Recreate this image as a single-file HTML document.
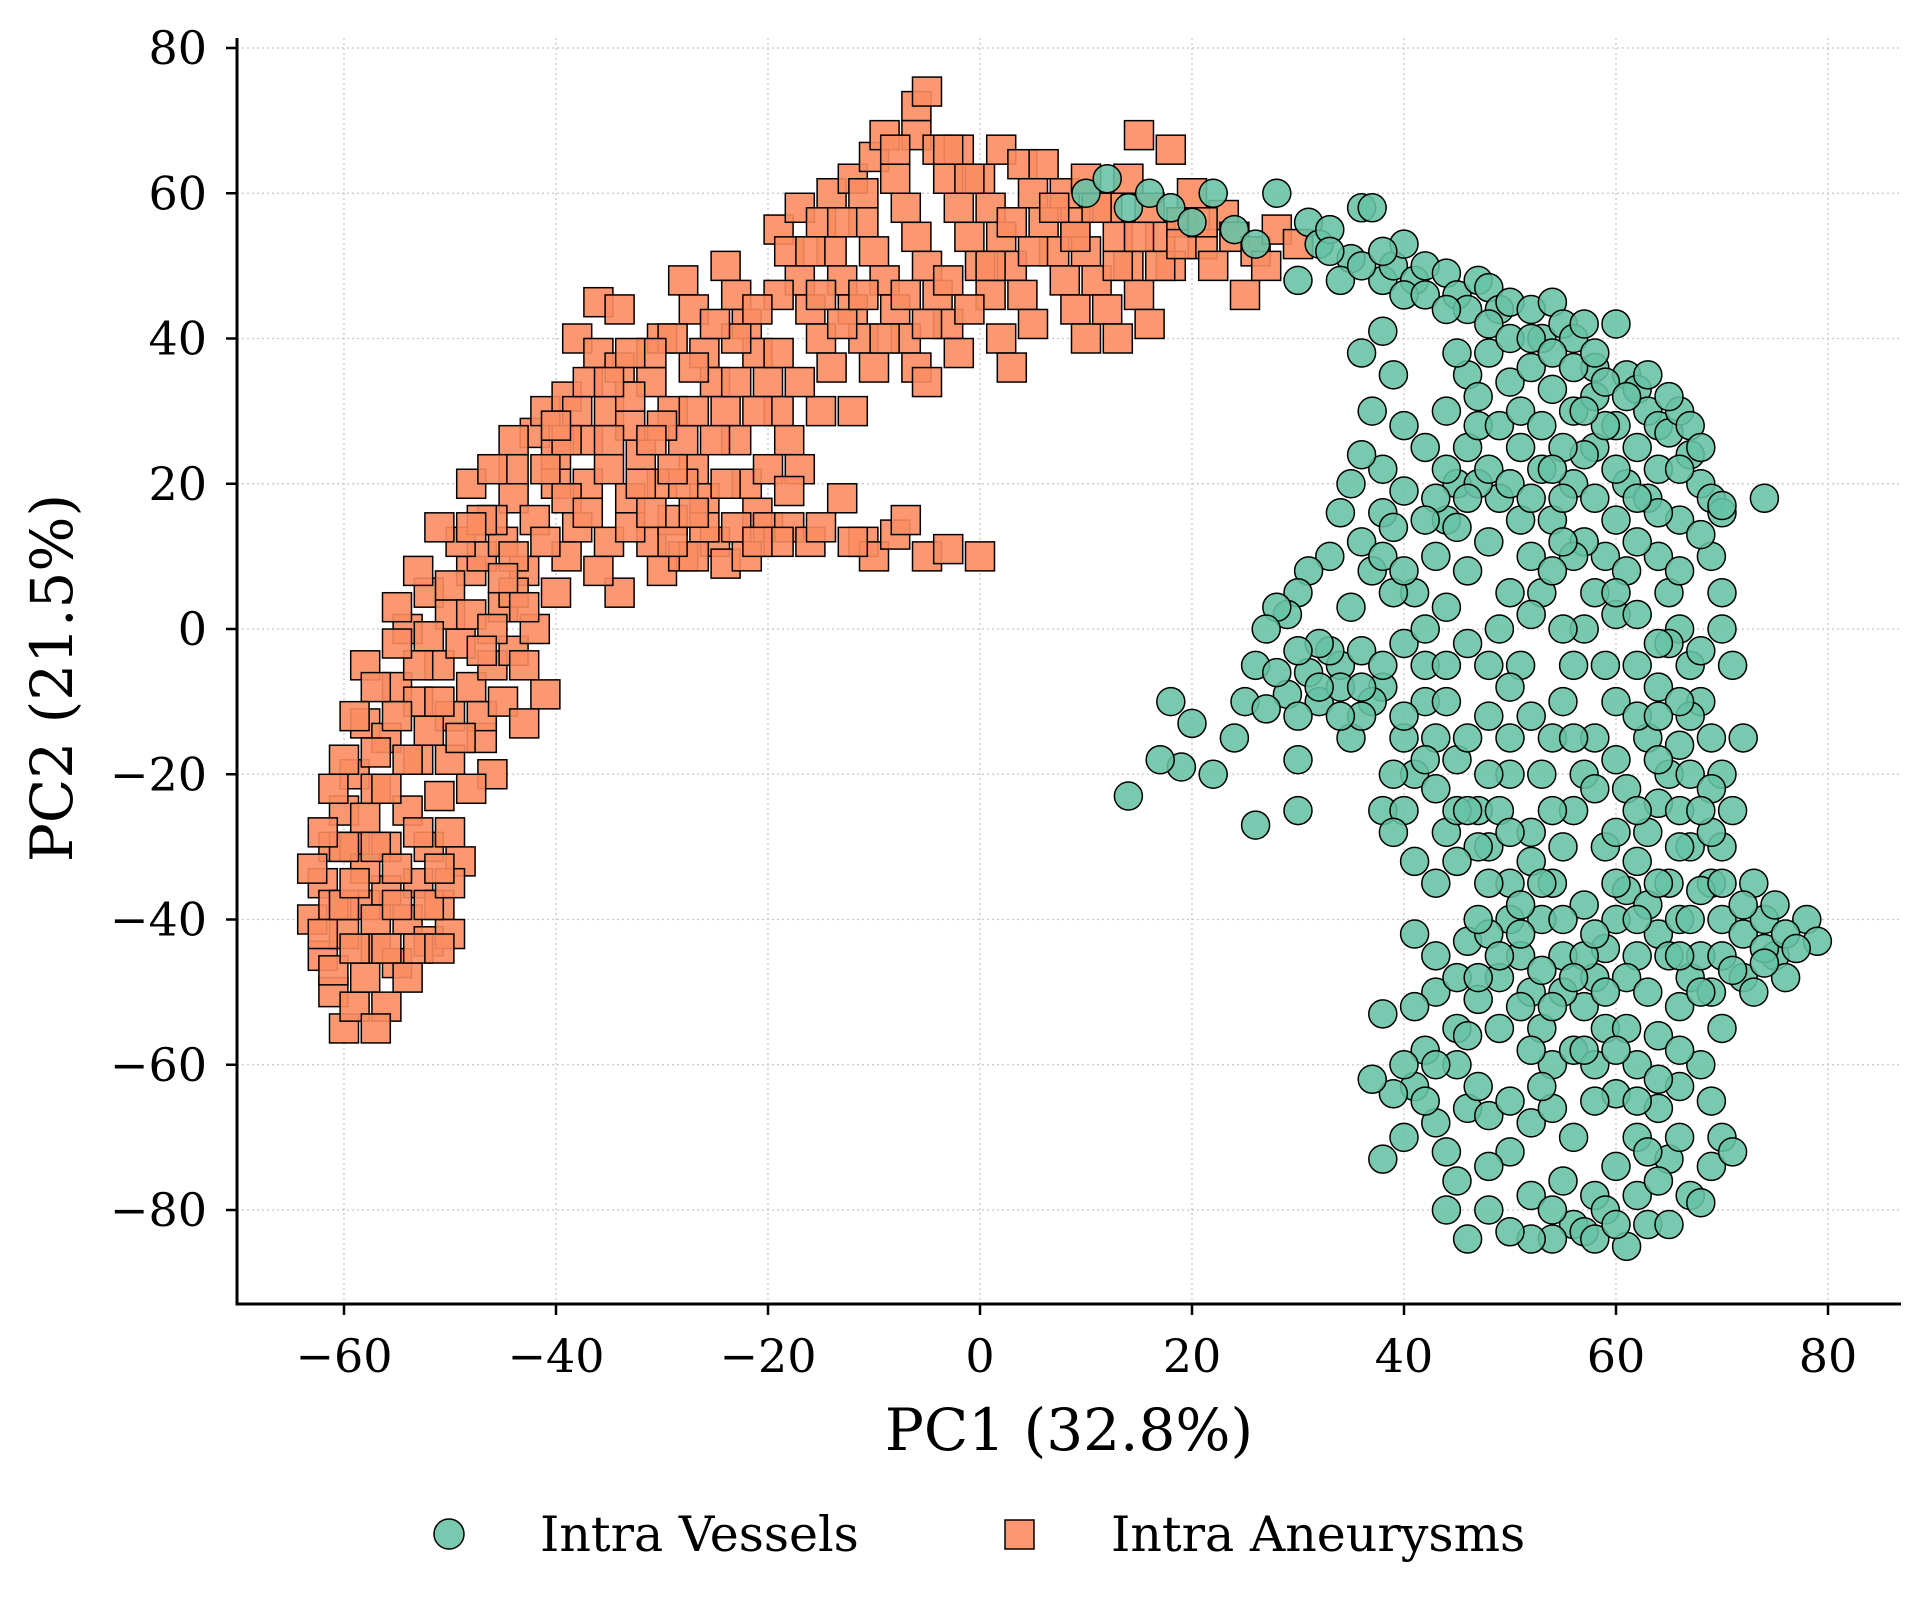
<!DOCTYPE html>
<html><head><meta charset="utf-8"><style>
html,body{margin:0;padding:0;background:#fff;}
svg{display:block;font-family:"DejaVu Serif","Liberation Serif",serif;}
</style></head><body>
<svg id="chart" width="1922" height="1606" viewBox="0 0 1922 1606" xmlns="http://www.w3.org/2000/svg">
<g id="grid"></g>
<g id="sq"></g>
<g id="ci"></g>
<g id="axes"></g>
<text x="1069" y="1450" font-size="58" text-anchor="middle">PC1 (32.8%)</text>
<text x="0" y="0" font-size="58" text-anchor="middle" transform="translate(72,678) rotate(-90)">PC2 (21.5%)</text>
<g>
<g>
<circle cx="449" cy="1534" r="15" fill="#66c2a5" fill-opacity="0.88" stroke="#000" stroke-width="1.5"/>
<text x="540" y="1551" font-size="49">Intra Vessels</text></g>
<g>
<rect x="1005" y="1520" width="29" height="29" fill="#fc8d62" fill-opacity="0.9" stroke="#000" stroke-width="1.5"/>
<text x="1111" y="1551" font-size="49">Intra Aneurysms</text></g>
</g>
</svg>
<script>
const xTicks=[-60,-40,-20,0,20,40,60,80];
const yTicks=[-80,-60,-40,-20,0,20,40,60,80];
const aneurysmX=[-63,-62,-61,-60,-59,-58,-60,-62,-61,-60,-59,-58,-57,-56,-55,-54,-53,-52,-51,-50,-52,-54,-56,-57,-58,-56,-55,-53,-51,-50,-49,-53,-51,-54,-52,-50,-49,-48,-47,-46,-58,-55,-50,-48,-46,-45,-44,-47,-45,-43,-42,-41,-40,-39,-44,-42,-40,-38,-42,-40,-37,-35,-34,-36,-48,-46,-44,-41,-39,-37,-35,-33,-31,-30,-38,-36,-35,-34,-33,-32,-30,-29,-28,-36,-34,-31,-30,-29,-28,-27,-26,-25,-24,-28,-27,-26,-25,-24,-23,-22,-21,-22,-20,-24,-23,-22,-21,-20,-19,-18,-17,-18,-16,-19,-18,-17,-16,-15,-14,-15,-13,-11,-10,-8,-7,-5,-3,0,-17,-15,-14,-13,-12,-11,-10,-12,-14,-12,-11,-10,-9,-8,-7,-6,-5,-10,-9,-8,-7,-6,-5,-4,-3,-2,-6,-5,-6,-4,-3,-2,-1,0,1,2,3,-2,0,1,2,3,4,5,2,4,5,6,7,8,9,10,6,8,9,10,11,12,13,10,12,13,14,15,16,14,15,16,17,18,19,20,21,22,23,24,25,26,27,28,30,18,-26,-28,-20,-30,-38,-44,-43,-47,-56,-59,-61,-57,
-62,-61,-60,-59,-58,-57,-56,-55,-54,-53,-52,-51,-50,-59,-60,-58,-57,-55,-53,-51,-56,-54,-52,-50,-48,-57,-55,-53,-51,-49,-52,-50,-48,-46,-44,-47,-45,-43,-49,-47,-45,-43,-41,-39,-37,-41,-39,-37,-35,-33,-31,-29,-27,-25,-23,-21,-19,-17,-15,-13,-11,-9,-7,-5,-3,-1,1,3,5,7,9,11,13,15,17,19,21,-1,-3,-8,-11,-13,-16,-19,-21,-23,-25,-27,-29,-31,-33,-35,-33,-31,-27,-23,-19,-15,-12,-27,-29,-21,-18,-24,-32,-40,-44,-46,-48,-51,-53,-55,-57,-59,-60,-61,-62,-63];
const aneurysmY=[-40,-45,-50,-55,-52,-48,-42,-35,-30,-25,-20,-38,-44,-52,-46,-40,-35,-43,-38,-42,-30,-25,-30,-22,-13,-15,-8,-18,-23,-28,-32,-10,-5,0,5,-12,-2,-8,-15,-20,-5,3,2,8,-5,3,-3,10,12,8,0,-9,5,10,18,15,20,14,27,24,20,12,5,8,20,15,10,30,32,26,22,18,12,8,40,38,30,36,28,24,20,15,10,45,44,34,40,30,26,22,18,12,9,48,44,38,34,30,26,20,16,10,14,50,46,42,38,34,30,26,22,14,12,55,52,48,44,40,36,30,18,12,10,13,15,10,11,10,58,56,52,48,44,40,36,30,60,62,56,52,48,44,40,36,34,65,68,62,58,54,50,46,42,38,72,74,68,66,62,58,54,50,46,40,36,66,62,58,54,50,46,42,66,64,60,56,52,48,44,40,64,60,56,52,48,44,40,62,58,54,50,46,42,62,68,58,54,50,56,60,53,50,57,54,46,52,50,55,53,66,14,20,22,28,30,22,-5,-12,-36,-30,-38,-55,
-42,-47,-38,-44,-33,-40,-44,-38,-48,-44,-38,-44,-35,-35,-30,-26,-30,-33,-28,-33,-22,-18,-14,-18,-22,-17,-12,-5,-10,-15,-1,6,2,0,5,-3,-10,-13,12,15,7,3,12,18,16,22,26,34,26,32,26,22,30,26,34,30,38,34,46,42,46,40,46,42,48,44,50,56,52,58,54,58,50,54,50,53,56,62,66,66,60,56,52,46,44,40,42,36,40,38,38,34,14,16,16,14,12,14,12,10,12,12,19,20,20,28,26,22,14,14,8,-2,-8,-12,-18,-22,-28,-33];
const vesselX=[10,12,14,16,18,20,22,24,26,28,30,31,32,33,35,36,37,38,39,40,41,42,44,45,46,47,48,49,50,52,53,54,55,56,58,60,61,62,63,64,65,66,67,68,69,70,74,36,37,38,39,40,38,36,35,34,33,31,30,29,28,27,26,25,24,22,20,19,18,17,14,26,30,30,32,34,36,38,40,42,41,43,44,45,46,47,48,46,44,42,40,41,43,44,45,47,48,50,52,53,54,55,56,57,58,59,60,61,62,63,64,65,66,67,68,69,70,71,70,69,70,72,74,75,76,78,79,73,72,71,70,69,70,66,64,60,58,56,54,52,50,49,51,52,50,49,48,50,51,52,53,54,56,57,58,59,60,61,62,63,64,65,66,67,62,60,58,57,56,55,54,53,55,57,59,61,63,64,65,60,61,62,59,58,60,62,64,66,67,68,69,70,68,66,64,62,60,58,56,54,52,50,48,46,45,44,43,44,46,48,50,52,54,53,55,57,59,61,63,65,67,68,69,70,71,65,63,41,39,38,40,42,43,45,46,47,49,41,38,37,42,46,48,47,45,43,42,40,39,37,36,38,40,42,44,46,48,50,52,54,56,58,59,57,53,51,55,57,53,55,51,49,47,45,43,35,33,31,29,27,35,37,39,38,36,34,32,30,28,62,64,66,68,70,72,74,76,73,71,67,66,65,63,61,59,57,55,53,51,60,62,64,66,68,67,69,
45,47,49,51,53,55,57,59,61,63,65,67,68,66,64,62,60,58,56,54,52,50,48,46,44,42,40,38,36,34,32,30,50,48,46,44,46,48,50,52,54,56,58,60,62,64,66,68,70,69,67,65,63,61,59,57,55,53,51,49,47,45,43,41,52,54,56,58,60,62,64,66,68,70,72,74,77,75,62,64,66,60,58,56,50,48,52,54,58,60,62,64,66,69,45,47,43,40,39,41,43,45,47,49,51,33,34,36,38,40,42,44,48,50,52,54,56,58,57,38,39,40,42,44,46,48,50,52,54,55,60,62,64,66,68];
const vesselY=[60,62,58,60,58,56,60,55,53,60,48,56,53,55,51,58,58,48,50,53,48,50,49,46,44,48,47,44,45,44,40,45,42,40,36,42,35,33,30,28,27,30,24,20,18,16,18,38,30,41,35,28,22,24,20,16,10,8,5,2,3,0,-5,-10,-15,-20,-13,-19,-10,-18,-23,-27,-25,-18,-10,-5,-3,-8,-2,0,5,10,15,20,25,28,12,8,3,-5,-15,-20,-22,-28,-18,-25,-30,-35,-28,-20,-15,-10,-5,0,5,10,15,20,25,18,10,5,0,-5,-10,-15,-20,-25,-30,-35,-40,-42,-40,-45,-48,-40,-43,-35,-15,-5,5,10,17,15,22,28,25,20,15,10,5,0,-5,-12,-20,-25,-35,-40,-45,-50,-55,-60,-58,-52,-48,-44,-40,-36,-32,-28,-24,-20,-16,-12,-5,-10,-15,-20,-25,-30,-35,-40,-45,-38,-30,-22,-15,-8,-2,2,8,12,-5,-60,-64,-60,-56,-52,-48,-45,-50,-55,-60,-63,-66,-70,-74,-78,-82,-84,-84,-83,-80,-84,-76,-80,-68,-72,-66,-67,-65,-68,-66,-63,-76,-83,-80,-85,-82,-82,-78,-79,-74,-70,-72,-73,-72,-63,-64,-73,-70,-58,-50,-55,-56,-51,-48,-52,-53,-62,-65,-43,-42,-30,-25,-15,-10,-12,5,8,12,16,19,25,30,35,38,34,36,33,30,32,28,24,22,25,18,12,5,0,15,18,20,14,18,3,-3,-6,-9,-11,-15,-10,-20,-25,-12,-8,-2,-3,-6,-45,-42,-40,-36,-45,-48,-44,-42,-50,-47,-30,-25,-35,-38,-48,-55,-58,-50,-47,-42,-18,-12,-2,8,13,-20,-22,
38,32,28,30,28,25,30,34,32,35,32,28,25,22,16,18,22,18,10,8,2,-8,-12,-15,-10,-18,-25,-5,-8,-12,-8,-12,-15,-5,-2,-5,-25,-20,-28,-32,-25,-15,-22,-28,-25,-18,-10,-3,0,-28,-40,-45,-50,-55,-50,-45,-40,-35,-38,-45,-40,-48,-45,-42,-58,-52,-48,-42,-35,-40,-35,-45,-50,-35,-38,-46,-44,-38,-65,-62,-58,-58,-65,-70,-72,-74,-78,-80,-84,-82,-78,-76,-70,-65,-60,-63,-60,-60,-28,-32,-35,-32,-48,-55,-52,52,48,50,52,46,46,44,42,40,40,38,36,38,42,10,14,8,15,22,18,22,20,18,22,12,5,2,-12,-30,-25];

const NS='http://www.w3.org/2000/svg';
const X0=980, XS=10.6, Y0=629, YS=7.2625;
const L=237, R=1901, T=38, B=1304;
function sx(v){return X0+v*XS;}
function sy(v){return Y0-v*YS;}
function mk(tag,attrs,parent){const e=document.createElementNS(NS,tag);for(const k in attrs)e.setAttribute(k,attrs[k]);parent.appendChild(e);return e;}
const grid=document.getElementById('grid');
const axes=document.getElementById('axes');
xTicks.forEach(v=>{
  const g=mk('line',{x1:sx(v),x2:sx(v),y1:T,y2:B,stroke:'#c8c8c8','stroke-width':1.3,'stroke-dasharray':'2,3'},grid);
  
  
  mk('line',{x1:sx(v),x2:sx(v),y1:B,y2:B+11,stroke:'#000','stroke-width':2.5},axes);
  const t=mk('text',{x:sx(v),y:B+68,'font-size':46,'text-anchor':'middle'},axes);
  t.textContent=(v<0?'\u2212':'')+Math.abs(v);
  
  
});
yTicks.forEach(v=>{
  const g=mk('line',{x1:L,x2:R,y1:sy(v),y2:sy(v),stroke:'#c8c8c8','stroke-width':1.3,'stroke-dasharray':'2,3'},grid);
  
  
  mk('line',{x1:L-11,x2:L,y1:sy(v),y2:sy(v),stroke:'#000','stroke-width':2.5},axes);
  const t=mk('text',{x:L-30,y:sy(v)+16,'font-size':46,'text-anchor':'end'},axes);
  t.textContent=(v<0?'\u2212':'')+Math.abs(v);
  
  
});
const ya=mk('line',{x1:L,x2:L,y1:T,y2:B+1.5,stroke:'#000','stroke-width':3},axes);


const xa=mk('line',{x1:L-1.5,x2:R,y1:B,y2:B,stroke:'#000','stroke-width':3},axes);



const sq=document.getElementById('sq');
aneurysmX.forEach((x,i)=>{
  const r=mk('rect',{x:sx(x)-14.5,y:sy(aneurysmY[i])-14.5,width:29,height:29,fill:'#fc8d62','fill-opacity':0.9,stroke:'#000','stroke-width':1.5},sq);
  
  
});
const ci=document.getElementById('ci');
vesselX.forEach((x,i)=>{
  const c=mk('circle',{cx:sx(x),cy:sy(vesselY[i]),r:14,fill:'#66c2a5','fill-opacity':0.88,stroke:'#000','stroke-width':1.5},ci);
  
  
});
</script>
</body></html>
